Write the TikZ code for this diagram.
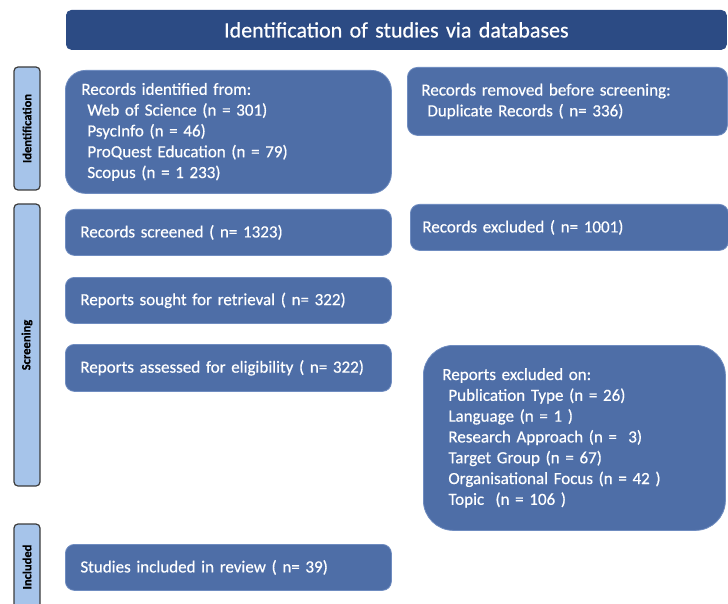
\documentclass[tikz,border=0pt]{standalone}
\usepackage{fontspec}
\setmainfont{Carlito}[FakeBold=0.5]
\definecolor{hdr}{HTML}{2C4B84}
\definecolor{boxfill}{HTML}{4E6EA7}
\definecolor{boxline}{HTML}{6F8CC0}
\definecolor{sidefill}{HTML}{A6C4EA}
\definecolor{sideline}{HTML}{3C3C3C}
\newcommand{\ind}{\hspace*{6pt}}
\tikzset{
  box/.style={draw=boxline, line width=0.8pt, fill=boxfill, text=white, anchor=north west,
    align=left, inner ysep=0pt, font=\fontsize{17}{20.8}\selectfont},
  sidebox/.style={draw=sideline, line width=1.2pt, fill=sidefill, rounded corners=4pt},
  sidetext/.style={rotate=90, font=\bfseries\fontsize{12.5}{13}\selectfont, text=black},
}
\begin{document}
\begin{tikzpicture}[x=1pt,y=-1pt]
\useasboundingbox (0,0) rectangle (728,604);
\clip (0,0) rectangle (728,604);
% header
\node[box, draw=hdr, fill=hdr, rounded corners=5pt, minimum width=660pt, minimum height=39pt,
  text width=640pt, inner xsep=10pt, align=center, font=\fontsize{22}{26}\selectfont] (hdr) at (66,10)
  {Identification of studies via databases};
% side labels
\draw[sidebox] (14,67) rectangle (40,190);
\node[sidetext] (sid) at (27,128.5) {Identification};
\draw[sidebox] (14,204) rectangle (40,486);
\node[sidetext] (sscr) at (27,345) {Screening};
\draw[sidebox] (14,524) rectangle (40,612);
\node[sidetext] (sinc) at (27,567) {Included};
% left column
\node[box, rounded corners=20pt, minimum height=123pt, text width=294pt, inner xsep=16pt] (ident) at (65,70)
  {Records identified from:\\\ind Web of Science (n = 301)\\\ind PsycInfo (n = 46)\\\ind ProQuest Education (n = 79)\\\ind Scopus (n = 1 233)};
\node[box, rounded corners=9pt, minimum height=46pt, text width=296pt, inner xsep=15pt] (scr) at (65,209)
  {Records screened ( n= 1323)};
\node[box, rounded corners=9pt, minimum height=46pt, text width=296pt, inner xsep=15pt] (sought) at (65,277)
  {Reports sought for retrieval ( n= 322)};
\node[box, rounded corners=9pt, minimum height=47pt, text width=296pt, inner xsep=15pt] (assess) at (65,344)
  {Reports assessed for eligibility ( n= 322)};
\node[box, rounded corners=9pt, minimum height=46pt, text width=296pt, inner xsep=15pt] (incl) at (65,544)
  {Studies included in review ( n= 39)};
% right column
\node[box, rounded corners=10pt, minimum height=68pt, text width=292pt, inner xsep=14pt] (removed) at (407,67)
  {Records removed before screening:\\\ind Duplicate Records ( n= 336)};
\node[box, rounded corners=9pt, minimum height=46pt, text width=294pt, inner xsep=12pt] (excl) at (410,204)
  {Records excluded ( n= 1001)};
\node[box, rounded corners=30pt, minimum height=185pt, text width=264pt, inner xsep=19pt] (rexcl) at (423,345)
  {Reports excluded on:\\\ind Publication Type (n = 26)\\\ind Language (n = 1 )\\\ind Research Approach (n = \ 3)\\\ind Target Group (n = 67)\\\ind Organisational Focus (n = 42 )\\\ind Topic \ (n = 106 )};
\end{tikzpicture}
\end{document}
